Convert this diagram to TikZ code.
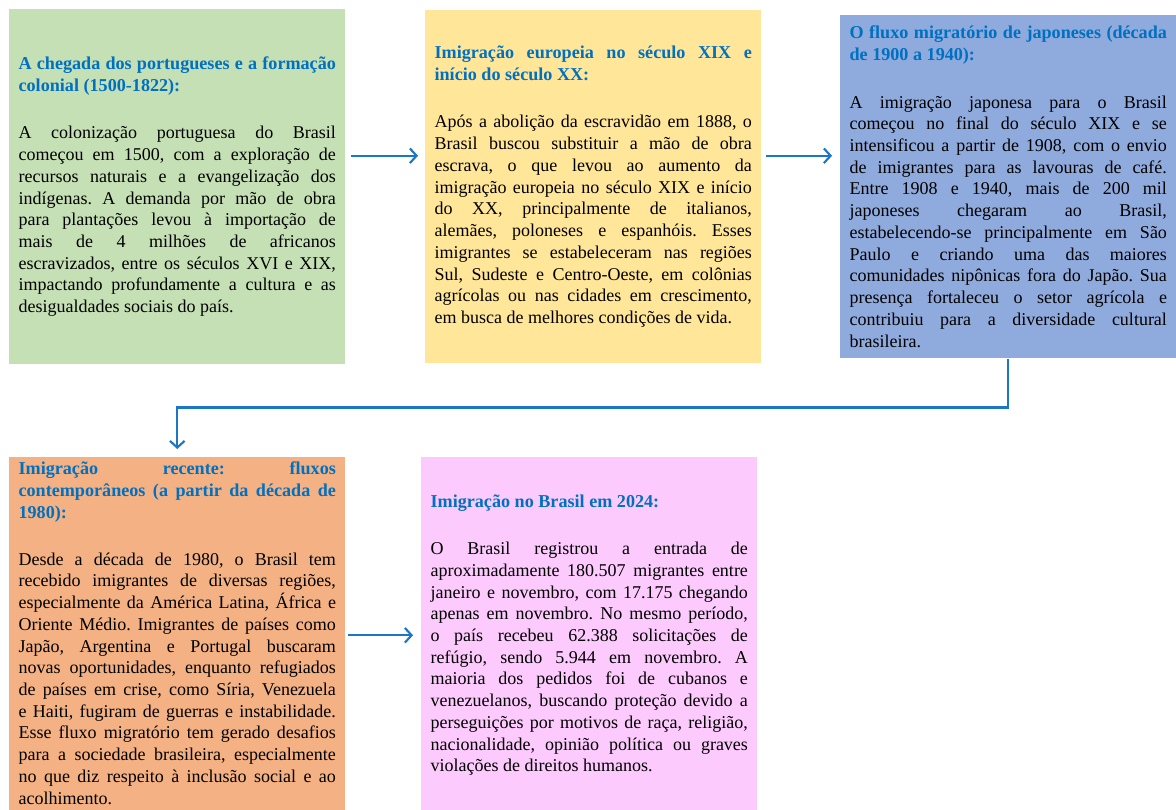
\documentclass[tikz,border=0pt]{standalone}
\usepackage{fontspec}
\setmainfont{Liberation Serif}
\usepackage{tikz}
\usetikzlibrary{arrows.meta, positioning}
\definecolor{verde}{HTML}{C5E0B4}
\definecolor{amarelo}{HTML}{FFE699}
\definecolor{azul}{HTML}{8FAADC}
\definecolor{laranja}{HTML}{F4B183}
\definecolor{rosa}{HTML}{FDCAFD}
\definecolor{titulo}{HTML}{0070C0}
\definecolor{corseta}{HTML}{1B76C4}
\newcommand{\caixa}[2]{%
	\begin{minipage}{238pt}
		\frenchspacing\hyphenpenalty=10000\exhyphenpenalty=10000\tolerance=10000\hbadness=10000\hfuzz=4pt
		{\bfseries\color{titulo}\fontsize{13.6}{16.5}\selectfont #1\par}\vspace{19pt}
		{\fontsize{13.5}{16.3}\selectfont #2\par}
	\end{minipage}}
\tikzstyle{periodo} = [rectangle, inner xsep=7pt, inner ysep=3pt, anchor=north west]
\tikzstyle{fluxo} = [draw=corseta, line width=1.6pt, -{Straight Barb[length=5pt,width=11pt]}]

\begin{document}
\begin{tikzpicture}[x=0.75pt, y=-0.75pt]
	\useasboundingbox (0,0) rectangle (1176,809);
	\clip (0,0) rectangle (1176,809);
	\node [periodo, fill=verde, minimum height=266.25pt] (b1) at (9,9) {\caixa{A chegada dos portugueses e a formação\linebreak colonial (1500-1822):}{A colonização portuguesa do Brasil\linebreak começou em 1500, com a exploração de\linebreak recursos naturais e a evangelização dos\linebreak indígenas. A demanda por mão de obra\linebreak para plantações levou à importação de\linebreak mais de 4 milhões de africanos\linebreak escravizados, entre os séculos XVI e XIX,\linebreak impactando profundamente a cultura e as\linebreak desigualdades sociais do país.}};
	\node [periodo, fill=amarelo, minimum height=264.75pt] (b2) at (425,10) {\caixa{Imigração europeia no século XIX e\linebreak início do século XX:}{Após a abolição da escravidão em 1888, o\linebreak Brasil buscou substituir a mão de obra\linebreak escrava, o que levou ao aumento da\linebreak imigração europeia no século XIX e início\linebreak do XX, principalmente de italianos,\linebreak alemães, poloneses e espanhóis. Esses\linebreak imigrantes se estabeleceram nas regiões\linebreak Sul, Sudeste e Centro-Oeste, em colônias\linebreak agrícolas ou nas cidades em crescimento,\linebreak em busca de melhores condições de vida.}};
	\node [periodo, fill=azul, minimum height=257.25pt] (b3) at (840,15) {\caixa{O fluxo migratório de japoneses (década\linebreak de 1900 a 1940):}{A imigração japonesa para o Brasil\linebreak começou no final do século XIX e se\linebreak intensificou a partir de 1908, com o envio\linebreak de imigrantes para as lavouras de café.\linebreak Entre 1908 e 1940, mais de 200 mil\linebreak japoneses chegaram ao Brasil,\linebreak estabelecendo-se principalmente em São\linebreak Paulo e criando uma das maiores\linebreak comunidades nipônicas fora do Japão. Sua\linebreak presença fortaleceu o setor agrícola e\linebreak contribuiu para a diversidade cultural\linebreak brasileira.}};
	\node [periodo, fill=laranja] (b4) at (9,457) {\caixa{Imigração recente: fluxos\linebreak contemporâneos (a partir da década de\linebreak 1980):}{Desde a década de 1980, o Brasil tem\linebreak recebido imigrantes de diversas regiões,\linebreak especialmente da América Latina, África e\linebreak Oriente Médio. Imigrantes de países como\linebreak Japão, Argentina e Portugal buscaram\linebreak novas oportunidades, enquanto refugiados\linebreak de países em crise, como Síria, Venezuela\linebreak e Haiti, fugiram de guerras e instabilidade.\linebreak Esse fluxo migratório tem gerado desafios\linebreak para a sociedade brasileira, especialmente\linebreak no que diz respeito à inclusão social e ao\linebreak acolhimento.\par\vspace*{12pt}}};
	\node [periodo, fill=rosa, minimum height=267pt] (b5) at (421,457) {\caixa{Imigração no Brasil em 2024:}{O Brasil registrou a entrada de\linebreak aproximadamente 180.507 migrantes entre\linebreak janeiro e novembro, com 17.175 chegando\linebreak apenas em novembro. No mesmo período,\linebreak o país recebeu 62.388 solicitações de\linebreak refúgio, sendo 5.944 em novembro. A\linebreak maioria dos pedidos foi de cubanos e\linebreak venezuelanos, buscando proteção devido a\linebreak perseguições por motivos de raça, religião,\linebreak nacionalidade, opinião política ou graves\linebreak violações de direitos humanos.}};
	\draw [fluxo] ([shift={(5,-31)}]b1.east) -- ([shift={(-7,-31)}]b2.west);
	\draw [fluxo] ([shift={(4,-31)}]b2.east) -- ([shift={(-8,-31)}]b3.west);
	\draw [fluxo] (b3.south) -- ++(0,49) -| ([yshift=6pt]b4.north);
	\draw [fluxo] (b4.east |- b5.west) ++(2,0) -- ([xshift=-6pt]b5.west);
\end{tikzpicture}
\end{document}
